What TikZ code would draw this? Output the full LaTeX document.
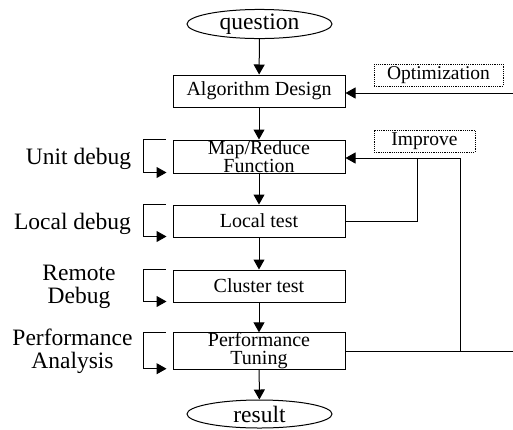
\documentclass[tikz,border=0pt]{standalone}
\usepackage{fontspec}
\setmainfont{Liberation Serif}
\usetikzlibrary{shapes.geometric,arrows.meta}
\begin{document}
\begin{tikzpicture}[x=1pt,y=-1pt,
  every node/.style={inner sep=0pt},
  stepbox/.style={draw, line width=1pt, minimum width=172pt, minimum height=32pt,
    align=center, font=\fontsize{20}{18}\selectfont},
  terminal/.style={draw, ellipse, line width=1pt, minimum width=145pt,
    minimum height=28pt, font=\fontsize{23.5}{23.5}\selectfont},
  note/.style={draw, line width=0.8pt, dash pattern=on 1.2pt off 1pt,
    minimum height=22pt, font=\fontsize{19.5}{19.5}\selectfont},
  phase/.style={align=center, font=\fontsize{23.5}{22.5}\selectfont},
  flow/.style={line width=1pt, -{Triangle[length=10pt,width=11pt]}},
  link/.style={line width=1pt},
]
\useasboundingbox (0,0) rectangle (513,429);

% main flow
\node[terminal] (q) at (259.5,24) {question};
\node[stepbox] (alg) at (259,91) {Algorithm Design};
\node[stepbox, minimum height=33pt] (map) at (259,156.5) {Map/Reduce\\Function};
\node[stepbox] (loc) at (259,221) {Local test};
\node[stepbox] (clu) at (259,286) {Cluster test};
\node[stepbox] (perf) at (259,351) {Performance\\Tuning};
\node[terminal] (res) at (259.5,414) {result};

\draw[flow] (q) -- (alg);
\draw[flow] (alg) -- (map);
\draw[flow] (map) -- (loc);
\draw[flow] (loc) -- (clu);
\draw[flow] (clu) -- (perf);
\draw[flow] (perf) -- (res);

% notes on the feedback paths
\node[note, minimum width=129pt] (opt) at (438.5,75) {Optimization};
\node[note, minimum width=101pt] (imp) at (424.5,141) {Improve};

% phase labels (base = baseline of the last line)
\node[phase, anchor=base] (l1) at (78.5,164) {Unit debug};
\node[phase, anchor=base] (l2) at (72.5,229) {Local debug};
\node[phase, anchor=base] (l3) at (79,303) {Remote\\Debug};
\node[phase, anchor=base] (l4) at (72.5,368) {Performance\\Analysis};

% self loops on the left of each stage
\foreach \n in {map,loc,clu,perf}
  \draw[flow] ([xshift=-7pt]\n.north west) -- ++(-22,0)
    |- ([xshift=-6pt,yshift=1pt]\n.south west);

% feedback paths on the right
\coordinate (optin) at (513,93);
\coordinate (jl) at (417,158);
\coordinate (jr) at (460,158);
\coordinate (pout) at (513,351);

\draw[flow] (optin) -- (optin -| alg.east);
\draw[flow] (jr) -- (jr -| map.east);
\draw[link] (loc.east) -| (jl);
\draw[link] (perf.east) -- (pout);
\draw[link] (jr) -- (jr |- perf.east);
\end{tikzpicture}
\end{document}
